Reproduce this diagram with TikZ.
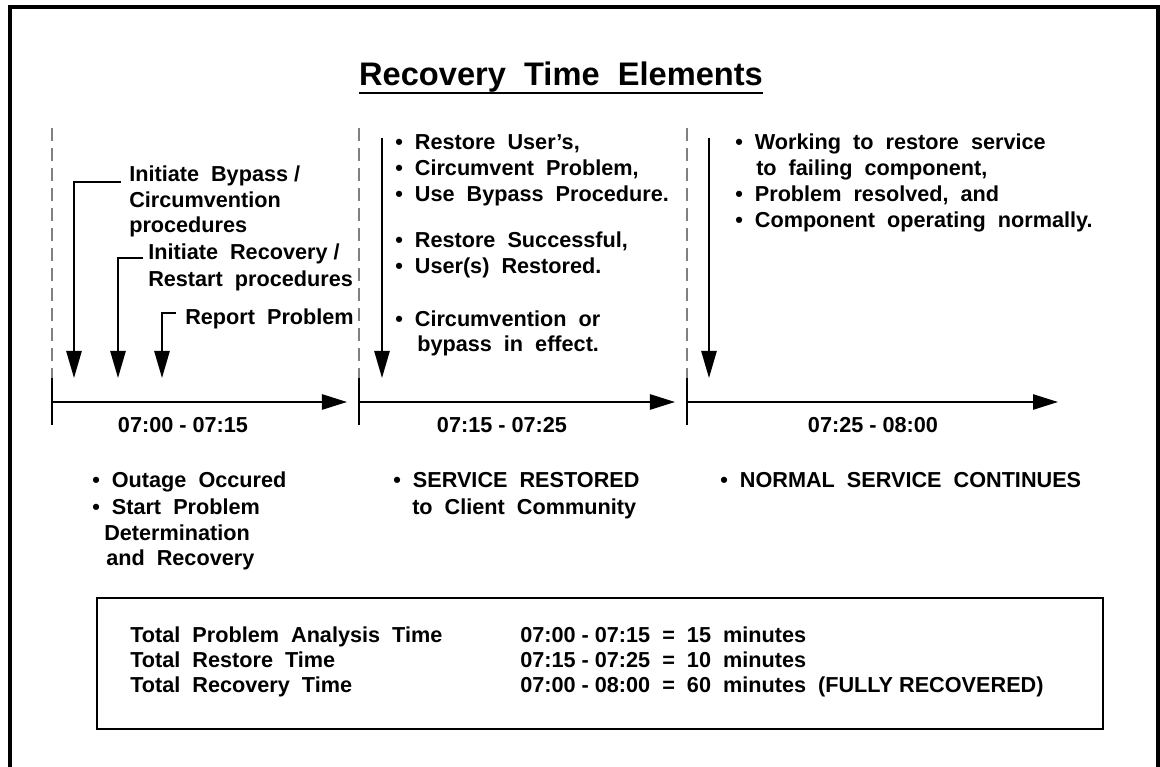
\documentclass[tikz,border=0pt]{standalone}
\usepackage{fontspec}
\setmainfont{Liberation Sans}[WordSpace=2]
\usetikzlibrary{arrows.meta}
\newcommand{\nsp}{\hspace{0.278em}}

\begin{document}
\begin{tikzpicture}[x=0.025cm,y=-0.025cm,
	txt/.style={anchor=base west,inner sep=0pt,font=\fontsize{15.4}{18.5}\selectfont\bfseries},
	ctxt/.style={txt,anchor=base},
	shaft/.style={line width=1.4pt,-{Triangle[length=0.675cm,width=0.38cm]}},
	axis/.style={line width=1.4pt,-{Triangle[length=0.625cm,width=0.38cm]}},
	tick/.style={line width=1.4pt},
	dashln/.style={gray,line width=0.8pt,dash pattern=on 0.33cm off 0.17cm}]
			\useasboundingbox (0,0) rectangle (1160,767);
			\draw[line width=2.2pt] (10,790) -- (10,7) -- (1158,7) -- (1158,790);
			%
			\node[ctxt,font=\fontsize{23.2}{28}\selectfont\bfseries] (title) at (561,86) {Recovery Time Elements};
			\draw[line width=1.8pt] (title.south west) -- (title.south east);
			%
			\coordinate (d0) at (52,128);
			\coordinate (k0) at (52,378);
			\coordinate (b0) at (52,425);
			\coordinate (d1) at (359,128);
			\coordinate (k1) at (359,378);
			\coordinate (b1) at (359,425);
			\coordinate (d2) at (687,128);
			\coordinate (k2) at (687,378);
			\coordinate (b2) at (687,425);
			\draw[dashln] (d0) -- (k0);
			\draw[dashln] (d1) -- (k1);
			\draw[dashln] (d2) -- (k2);
			\draw[tick] (k0) -- (b0);
			\draw[tick] (k1) -- (b1);
			\draw[tick] (k2) -- (b2);
			%
			\coordinate (s0) at (52,402);
			\coordinate (e0) at (347,402);
			\coordinate (s1) at (359,402);
			\coordinate (e1) at (675,402);
			\coordinate (s2) at (687,402);
			\coordinate (e2) at (1058,402);
			\draw[axis] (s0) -- (e0);
			\draw[axis] (s1) -- (e1);
			\draw[axis] (s2) -- (e2);
			%
			\node[ctxt] (span0) at (183,433) {07:00\nsp-\nsp07:15};
			\node[ctxt] (span1) at (502,433) {07:15\nsp-\nsp07:25};
			\node[ctxt] (span2) at (873,433) {07:25\nsp-\nsp08:00};
			%
			\node[txt] (ib1) at (129,182) {Initiate Bypass\nsp/};
			\node[txt] (ib2) at (129,208) {Circumvention};
			\node[txt] (ib3) at (129,233) {procedures};
			\node[txt] (ir1) at (148,260) {Initiate Recovery\nsp/};
			\node[txt] (ir2) at (148,287) {Restart procedures};
			\node[txt] (rp) at (185,325) {Report Problem};
			%
			\coordinate (c1) at (121,182);
			\coordinate (h1) at (74,378);
			\coordinate (c2) at (143,258);
			\coordinate (h2) at (118,378);
			\coordinate (c3) at (176,313);
			\coordinate (h3) at (162,378);
			\coordinate (c4) at (382,138);
			\coordinate (h4) at (382,378);
			\coordinate (c5) at (709,138);
			\coordinate (h5) at (709,378);
			\draw[shaft] (c1) -| (h1);
			\draw[shaft] (c2) -| (h2);
			\draw[shaft] (c3) -| (h3);
			\draw[shaft] (c4) -- (h4);
			\draw[shaft] (c5) -- (h5);
			%
			\node[txt] (m1) at (395,150) {• Restore User’s,};
			\node[txt] (m2) at (395,176) {• Circumvent Problem,};
			\node[txt] (m3) at (395,202) {• Use Bypass Procedure.};
			\node[txt] (m4) at (395,248) {• Restore Successful,};
			\node[txt] (m5) at (395,274) {• User(s) Restored.};
			\node[txt] (m6) at (395,327) {• Circumvention or};
			\node[txt] (m7) at (417,352) {bypass in effect.};
			%
			\node[txt] (r1) at (735,150) {• Working to restore service};
			\node[txt] (r2) at (756,176) {to failing component,};
			\node[txt] (r3) at (735,202) {• Problem resolved, and};
			\node[txt] (r4) at (735,228) {• Component operating normally.};
			%
			\node[txt] (o1) at (92,488) {• Outage Occured};
			\node[txt] (o2) at (92,515) {• Start Problem};
			\node[txt] (o3) at (104,540) {Determination};
			\node[txt] (o4) at (106,565) {and Recovery};
			\node[txt] (sr1) at (393,488) {• SERVICE RESTORED};
			\node[txt] (sr2) at (412,515) {to Client Community};
			\node[txt] (ns) at (720,488) {• NORMAL SERVICE CONTINUES};
			%
			\draw[line width=2pt] (97,598) rectangle (1103,729);
			\node[txt] (tot1) at (130,642) {Total Problem Analysis Time};
			\node[txt] (tot2) at (130,667) {Total Restore Time};
			\node[txt] (tot3) at (130,692) {Total Recovery Time};
			\node[txt] (val1) at (520,642) {07:00\nsp-\nsp07:15 = 15 minutes};
			\node[txt] (val2) at (520,667) {07:15\nsp-\nsp07:25 = 10 minutes};
			\node[txt] (val3) at (520,692) {07:00\nsp-\nsp08:00 = 60 minutes (FULLY\nsp RECOVERED)};
			%
		\end{tikzpicture}
\end{document}
